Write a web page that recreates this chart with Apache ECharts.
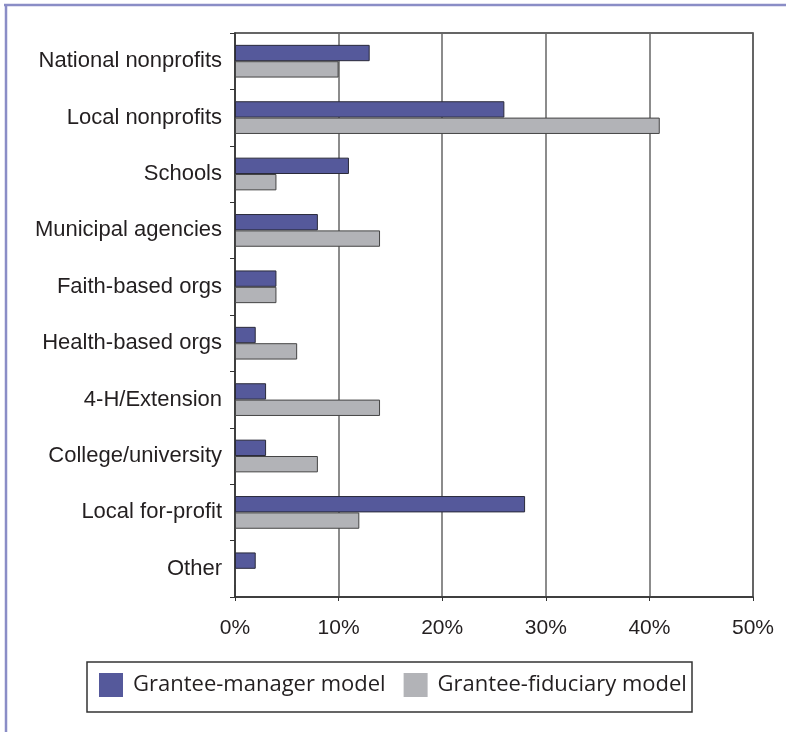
<!DOCTYPE html>
<html>
<head>
<meta charset="utf-8">
<script src="https://cdn.jsdelivr.net/npm/echarts@6/dist/echarts.min.js"></script>
<style>
html,body{margin:0;padding:0;background:#fff;}
#chart{width:786px;height:732px;}
</style>
</head>
<body>
<div id="chart"></div>
<script>
const categories = ["National nonprofits","Local nonprofits","Schools","Municipal agencies","Faith-based orgs","Health-based orgs","4-H/Extension","College/university","Local for-profit","Other"];
const managerValues = [13, 26, 11, 8, 4, 2, 3, 3, 28, 2];
const fiduciaryValues = [10, 41, 4, 14, 4, 6, 14, 8, 12, 0];
const seriesNames = ["Grantee-manager model", "Grantee-fiduciary model"];
const xTicks = [0, 10, 20, 30, 40, 50];

const chart = echarts.init(document.getElementById('chart'), null, {renderer: 'canvas'});
const labelFont = '"Liberation Sans", Arial, sans-serif';
const legendFont = '"Open Sans", "Noto Sans", sans-serif';

chart.setOption({
  backgroundColor: '#ffffff',
  animation: false,
  grid: {
    left: 235, right: 33, top: 33, bottom: 135,
    show: true, borderColor: '#333', borderWidth: 1.5, backgroundColor: 'transparent'
  },
  legend: {
    data: seriesNames,
    left: 99, top: 673,
    itemWidth: 24, itemHeight: 24, itemGap: 18,
    padding: 0,
    icon: 'rect',
    textStyle: { fontFamily: legendFont, fontSize: 22, color: '#231f20', padding: [0,0,0,5] },
    itemStyle: { borderWidth: 0 }
  },
  xAxis: {
    type: 'value',
    min: xTicks[0], max: xTicks[xTicks.length - 1], interval: 10,
    axisLine: { show: true, lineStyle: { color: '#333', width: 1.5 } },
    axisTick: { show: true, length: 4, lineStyle: { color: '#333' } },
    splitLine: { show: true, lineStyle: { color: '#666', width: 1.5 } },
    axisLabel: { formatter: '{value}%', fontFamily: labelFont, fontSize: 21, color: '#231f20', margin: 21 }
  },
  yAxis: {
    type: 'category',
    data: categories,
    inverse: true,
    axisLine: { show: true, lineStyle: { color: '#333', width: 1.5 } },
    axisTick: { show: true, length: 5, lineStyle: { color: '#333' } },
    axisLabel: { fontFamily: labelFont, fontSize: 22, color: '#231f20', margin: 13 }
  },
  series: [
    {
      name: seriesNames[0], type: 'bar', data: managerValues,
      barGap: '0%', barCategoryGap: '42%',
      itemStyle: { color: '#55599b', borderColor: '#2a2a3a', borderWidth: 1 }
    },
    {
      name: seriesNames[1], type: 'bar', data: fiduciaryValues,
      barGap: '0%', barCategoryGap: '42%',
      itemStyle: { color: '#b2b3b7', borderColor: '#444', borderWidth: 1 }
    }
  ],
  graphic: [
    { type: 'line', shape: { x1: 4, y1: 5, x2: 786, y2: 5 }, style: { stroke: '#8a8dc6', lineWidth: 2.5 } },
    { type: 'line', shape: { x1: 6, y1: 4, x2: 6, y2: 732 }, style: { stroke: '#8a8dc6', lineWidth: 2.5 } },
    { type: 'rect', shape: { x: 87, y: 662, width: 605, height: 50 }, style: { fill: 'none', stroke: '#333', lineWidth: 1.5 }, z: -1 }
  ]
});
</script>
</body>
</html>
